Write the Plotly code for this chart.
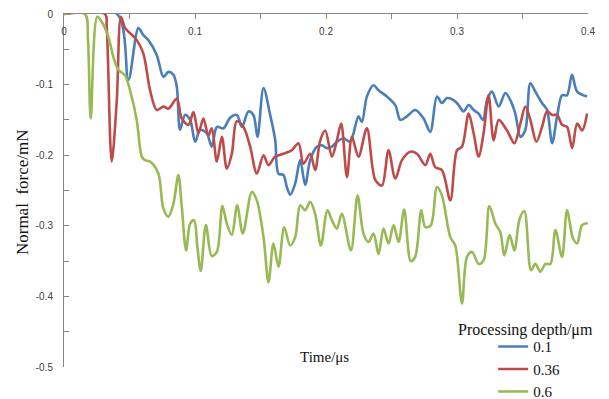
import plotly.graph_objects as go

# ---- data (time in µs, normal force in mN) ----
t_blue = [0, 0.0405, 0.0491, 0.0568, 0.0606, 0.0644, 0.0708, 0.0759, 0.0797, 0.0835, 0.0861, 0.0886,
          0.0924, 0.0963, 0.1001, 0.1039, 0.109, 0.1128, 0.1167, 0.1217, 0.1268, 0.1319, 0.1358, 0.1408,
          0.1446, 0.1477, 0.1523, 0.1574, 0.1612, 0.1637, 0.1675, 0.1701, 0.1727, 0.1765, 0.1803, 0.1841,
          0.1879, 0.1930, 0.1969, 0.2007, 0.2045, 0.2083, 0.2134, 0.2185, 0.2210, 0.2248, 0.2274, 0.2312,
          0.2363, 0.2401, 0.2465, 0.2529, 0.2567, 0.2618, 0.2681, 0.2745, 0.2796, 0.2847, 0.2885, 0.2924,
          0.2974, 0.3012, 0.3050, 0.3089, 0.3127, 0.3165, 0.3199, 0.3229, 0.3267, 0.3318, 0.3369, 0.3407,
          0.3445, 0.3484, 0.3522, 0.3560, 0.3598, 0.3649, 0.3687, 0.3726, 0.3764, 0.3802, 0.3840, 0.3878,
          0.3917, 0.3993]
f_blue = [0, 0, -0.0935, -0.020, -0.030, -0.037, -0.058, -0.089, -0.082, -0.086, -0.103, -0.164,
          -0.143, -0.150, -0.181, -0.164, -0.169, -0.188, -0.160, -0.162, -0.147, -0.143, -0.160, -0.138,
          -0.143, -0.174, -0.105, -0.143, -0.178, -0.226, -0.228, -0.245, -0.256, -0.240, -0.207, -0.242,
          -0.207, -0.188, -0.186, -0.190, -0.188, -0.181, -0.176, -0.181, -0.169, -0.145, -0.153, -0.117,
          -0.101, -0.108, -0.117, -0.129, -0.150, -0.145, -0.136, -0.148, -0.167, -0.117, -0.126, -0.119,
          -0.122, -0.129, -0.138, -0.129, -0.136, -0.141, -0.150, -0.122, -0.110, -0.131, -0.112, -0.122,
          -0.141, -0.174, -0.164, -0.098, -0.110, -0.126, -0.136, -0.183, -0.145, -0.115, -0.115, -0.086,
          -0.110, -0.117]

t_red = [0, 0.0313, 0.0326, 0.0364, 0.0403, 0.0435, 0.0466, 0.0504, 0.0555, 0.0606, 0.0657, 0.0708,
         0.0759, 0.0797, 0.0861, 0.0899, 0.0950, 0.0988, 0.1026, 0.1064, 0.1102, 0.1128, 0.1167, 0.1205,
         0.1243, 0.1281, 0.1319, 0.1370, 0.1421, 0.1472, 0.1523, 0.1561, 0.1612, 0.1675, 0.1739, 0.1790,
         0.1828, 0.1879, 0.1917, 0.1956, 0.1994, 0.2045, 0.2083, 0.2116, 0.2160, 0.2198, 0.2248, 0.2312,
         0.2376, 0.2427, 0.2477, 0.2529, 0.2580, 0.2643, 0.2694, 0.2758, 0.2796, 0.2834, 0.2885, 0.2949,
         0.3000, 0.3038, 0.3089, 0.3127, 0.3165, 0.3203, 0.3241, 0.3280, 0.3318, 0.3382, 0.3438, 0.3484,
         0.3522, 0.3560, 0.3606, 0.3649, 0.3687, 0.3726, 0.3764, 0.3802, 0.3840, 0.3879, 0.3917, 0.3955,
         0.3993]
f_red = [0, 0, -0.018, -0.209, -0.122, -0.004, -0.020, -0.027, -0.037, -0.056, -0.108, -0.136,
         -0.131, -0.134, -0.120, -0.148, -0.157, -0.139, -0.169, -0.148, -0.172, -0.162, -0.209, -0.174,
         -0.219, -0.198, -0.152, -0.160, -0.188, -0.226, -0.200, -0.214, -0.202, -0.198, -0.193, -0.183,
         -0.212, -0.198, -0.221, -0.179, -0.165, -0.202, -0.179, -0.155, -0.231, -0.174, -0.202, -0.162,
         -0.235, -0.243, -0.193, -0.233, -0.207, -0.195, -0.198, -0.214, -0.198, -0.217, -0.221, -0.264,
         -0.193, -0.188, -0.141, -0.169, -0.202, -0.169, -0.115, -0.179, -0.150, -0.165, -0.183, -0.155,
         -0.131, -0.150, -0.181, -0.160, -0.138, -0.143, -0.143, -0.157, -0.160, -0.190, -0.155, -0.165,
         -0.141]

t_green = [0, 0.016, 0.0183, 0.0204, 0.0254, 0.0288, 0.0338, 0.0377, 0.0415, 0.0466, 0.0504, 0.0555,
           0.0594, 0.0619, 0.0657, 0.0720, 0.0759, 0.0797, 0.0835, 0.0873, 0.0899, 0.0932, 0.0963, 0.0993,
           0.1018, 0.1044, 0.1083, 0.1128, 0.1167, 0.1209, 0.1243, 0.1281, 0.1322, 0.1365, 0.1434, 0.1472,
           0.1523, 0.1561, 0.1599, 0.1637, 0.1681, 0.1726, 0.1765, 0.1803, 0.1841, 0.1879, 0.1917, 0.1961,
           0.2011, 0.2045, 0.2083, 0.2121, 0.2190, 0.2241, 0.2286, 0.2325, 0.2363, 0.2401, 0.2439, 0.2477,
           0.2516, 0.2554, 0.2597, 0.2647, 0.2681, 0.2727, 0.2758, 0.2801, 0.2847, 0.2885, 0.2949, 0.2987,
           0.3038, 0.3076, 0.3115, 0.3165, 0.3203, 0.3247, 0.3293, 0.3331, 0.3361, 0.3402, 0.3438, 0.3478,
           0.3514, 0.3565, 0.3598, 0.3636, 0.3675, 0.3713, 0.3751, 0.3802, 0.3840, 0.3886, 0.3917, 0.3955,
           0.3998]
f_green = [0, 0, -0.037, -0.148, -0.004, -0.011, -0.032, -0.061, -0.079, -0.087, -0.108, -0.150,
           -0.202, -0.207, -0.209, -0.226, -0.276, -0.287, -0.269, -0.228, -0.273, -0.335, -0.297, -0.292,
           -0.330, -0.364, -0.299, -0.343, -0.337, -0.272, -0.297, -0.313, -0.271, -0.311, -0.252, -0.264,
           -0.316, -0.380, -0.325, -0.358, -0.302, -0.328, -0.316, -0.271, -0.278, -0.266, -0.283, -0.328,
           -0.278, -0.292, -0.304, -0.283, -0.335, -0.257, -0.311, -0.323, -0.311, -0.340, -0.304, -0.325,
           -0.299, -0.323, -0.277, -0.350, -0.344, -0.278, -0.302, -0.299, -0.245, -0.257, -0.316, -0.328,
           -0.410, -0.344, -0.337, -0.354, -0.349, -0.272, -0.297, -0.309, -0.342, -0.313, -0.335, -0.290,
           -0.279, -0.363, -0.354, -0.365, -0.354, -0.354, -0.306, -0.344, -0.278, -0.318, -0.325, -0.299,
           -0.296]

series_names = ["0.1", "0.36", "0.6"]
x_tick_vals = [0, 0.1, 0.2, 0.3, 0.4]
x_tick_text = ["0", "0.1", "0.2", "0.3", "0.4"]
x_minor_vals = [0.05, 0.15, 0.25, 0.35]
y_tick_vals = [0, -0.1, -0.2, -0.3, -0.4, -0.5]
y_tick_text = ["0", "-0.1", "-0.2", "-0.3", "-0.4", "-0.5"]
y_minor_vals = [-0.05, -0.15, -0.25, -0.35, -0.45]

colors = ["#4A7EBB", "#BE4B48", "#98B954"]
AXIS = "#868686"
SERIF = "Liberation Serif, Times New Roman, serif"
SANS = "Liberation Sans, Arial, sans-serif"

fig = go.Figure()
for name, tx, fy, c in zip(series_names, [t_blue, t_red, t_green], [f_blue, f_red, f_green], colors):
    fig.add_trace(go.Scatter(x=tx, y=fy, name=name, mode="lines",
                             line=dict(color=c, width=2.6, shape="spline", smoothing=0.9)))

# the page body adds an ~8px offset, so the figure is sized to fill the rest of the window
fig.update_layout(
    width=601, height=391,
    margin=dict(l=56, r=21, t=6, b=32, autoexpand=False),
    paper_bgcolor="white", plot_bgcolor="white",
    showlegend=True,
    legend=dict(x=0.819, y=0.104, xanchor="left", yanchor="top",
                bgcolor="rgba(0,0,0,0)", font=dict(family=SERIF, size=15, color="#111"),
                itemwidth=30, tracegroupgap=0),
    xaxis=dict(range=[0, 0.4], side="top", showline=True, linecolor=AXIS, linewidth=1,
               showgrid=False, zeroline=False, automargin=False,
               tickmode="array", tickvals=x_tick_vals, ticktext=x_tick_text,
               ticks="inside", ticklen=5, tickcolor=AXIS,
               ticklabelposition="inside", ticklabeloverflow="allow", ticklabelstandoff=8,
               tickfont=dict(family=SANS, size=10, color="#404040"),
               minor=dict(tickmode="array", tickvals=x_minor_vals, ticks="inside", ticklen=5,
                          tickcolor=AXIS, showgrid=False)),
    yaxis=dict(range=[-0.5, 0], showline=True, linecolor=AXIS, linewidth=1,
               showgrid=False, zeroline=False, automargin=False,
               tickmode="array", tickvals=y_tick_vals, ticktext=y_tick_text,
               ticks="inside", ticklen=5, tickcolor=AXIS, ticklabelstandoff=8,
               tickfont=dict(family=SANS, size=10, color="#404040"),
               minor=dict(tickmode="array", tickvals=y_minor_vals, ticks="inside", ticklen=5,
                          tickcolor=AXIS, showgrid=False)),
    annotations=[
        dict(text="Normal  force/mN", xref="paper", yref="paper", x=-0.078, y=0.496,
             xanchor="center", yanchor="middle", textangle=-90, showarrow=False,
             font=dict(family=SERIF, size=17, color="#111")),
        dict(text="Time/μs", xref="paper", yref="paper", x=0.4965, y=0.028,
             xanchor="center", yanchor="middle", showarrow=False,
             font=dict(family=SERIF, size=15, color="#111")),
        dict(text="Processing depth/μm", xref="paper", yref="paper", x=0.880, y=0.105,
             xanchor="center", yanchor="middle", showarrow=False,
             font=dict(family=SERIF, size=16, color="#111")),
    ],
)

fig.write_html("out.html")
